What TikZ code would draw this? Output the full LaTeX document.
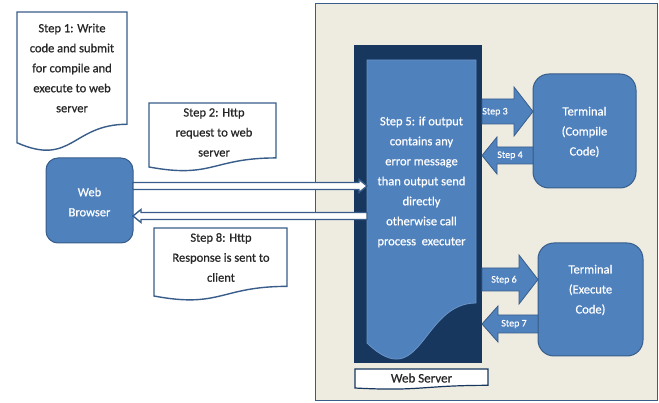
\documentclass[tikz,border=0pt]{standalone}
\usepackage{fontspec}
\setmainfont{Carlito}
\newfontfamily\semib{Carlito}[FakeBold=0.6]
\usetikzlibrary{calc}
\definecolor{obl}{HTML}{4F81BD}
\definecolor{obd}{HTML}{385D8A}
\definecolor{navy}{HTML}{17375E}
\definecolor{tanbg}{HTML}{EEECE1}
% document (wavy bottom) outline of a frame node
\newcommand\docpath[2]{%
  \path[#1] let \p1=(#2.north west), \p2=(#2.south east), \n1={\y1-\y2} in
    (\p1) -- (\x2,\y1) -- (\x2,{\y1-0.802*\n1})
    .. controls ({(\x1+\x2)/2},{\y1-0.802*\n1}) and ({(\x1+\x2)/2},{\y1-1.107*\n1}) ..
    (\x1,{\y1-0.934*\n1}) -- cycle;}
% horizontal block arrow: style, tail, tip, body half, head half, signed head length
\newcommand\hblock[6]{%
  \path[#1] let \p1=#2, \p2=#3 in
    (\x1,{\y2+#4pt}) -- ({\x2-(#6pt)},{\y2+#4pt}) -- ({\x2-(#6pt)},{\y2+#5pt}) -- (\p2)
    -- ({\x2-(#6pt)},{\y2-#5pt}) -- ({\x2-(#6pt)},{\y2-#4pt}) -- (\x1,{\y2-#4pt}) -- cycle;}
\tikzset{
  frame/.style={inner sep=0pt, outer sep=0pt, draw=none},
  bluebox/.style={frame, fill=obl, draw=obd, line width=1pt, rounded corners=16pt},
  docshape/.style={fill=white, draw=obd, line width=1.4pt},
  blockarrow/.style={fill=obl, draw=obd, line width=0.8pt},
  dblarrow/.style={fill=white, draw=obd, line width=1.4pt},
  txt/.style={font=\semib\fontsize{12.5}{20}\selectfont, align=center, inner sep=0pt, text=black!85},
  wtxt/.style={txt, text=white},
  steplbl/.style={font=\semib\fontsize{10}{12}\selectfont, text=white, inner sep=0pt},
}
\begin{document}
\begin{tikzpicture}[x=1pt,y=-1pt]
\useasboundingbox (0,0) rectangle (659,403);
% server area background
\draw[fill=tanbg, draw=obd, line width=1pt] (315,4) rectangle (657,401);
% web server
\node[frame, fill=navy, minimum width=128pt, minimum height=318pt] (srv) at (418,204) {};
\node[frame, minimum width=109pt, minimum height=303pt] (sdoc) at (421.5,211.5) {};
\docpath{fill=obl, draw=obl!85!white, line width=0.8pt}{sdoc}
\node[wtxt] (s5) at (421.5,182) {Step 5: if output\\contains any\\error message\\than output send\\directly\\otherwise call\\process\ \ executer};
\node[frame, minimum width=133pt, minimum height=20.3pt] (ws) at (421.5,379.2) {};
\docpath{docshape, draw=navy, line width=1.2pt}{ws}
\node[txt, font=\semib\fontsize{13}{20}\selectfont] (wst) at (421.5,378) {Web Server};
% terminals
\node[bluebox, minimum width=103pt, minimum height=114pt] (t1) at (584.5,131) {};
\node[wtxt] (t1t) at (584.5,132) {Terminal\\(Compile\\Code)};
\node[bluebox, minimum width=105pt, minimum height=113pt] (t2) at (590.5,299.5) {};
\node[wtxt] (t2t) at (590.5,290) {Terminal\\(Execute\\Code)};
% block arrows
\hblock{blockarrow}{(srv.east |- 0,111.5)}{(t1.west |- 0,111.5)}{12.5}{24.5}{19}
\node[steplbl] (a3) at (495,112) {Step 3};
\hblock{blockarrow}{(t1.west |- 0,155.5)}{(srv.east |- 0,155.5)}{8.5}{18.5}{-15}
\node[steplbl] (a4) at (510,155.5) {Step 4};
\hblock{blockarrow}{(srv.east |- 0,279.5)}{(t2.west |- 0,279.5)}{11.5}{24.5}{19}
\node[steplbl] (a6) at (504,280) {Step 6};
\hblock{blockarrow}{(t2.west |- 0,324)}{(srv.east |- 0,324)}{9}{18}{-16}
\node[steplbl] (a7) at (514,324) {Step 7};
% web browser
\node[bluebox, rounded corners=12pt, minimum width=87pt, minimum height=85pt] (br) at (89.5,200.5) {};
\node[wtxt] (brt) at (89.5,202) {Web\\Browser};
% documents
\node[frame, minimum width=110pt, minimum height=140pt] (d1) at (72,82) {};
\docpath{docshape}{d1}
\node[txt] (d1t) at (72,68) {Step 1: Write\\code and submit\\for compile and\\execute to web\\server};
\node[frame, minimum width=127pt, minimum height=68.5pt] (d2) at (212.5,137.25) {};
\docpath{docshape}{d2}
\node[txt] (d2t) at (214,132.5) {Step 2: Http\\request to web\\server};
\node[frame, minimum width=133pt, minimum height=72.8pt] (d3) at (220.5,264.4) {};
\docpath{docshape}{d3}
\node[txt] (d3t) at (221,257.5) {Step 8: Http\\Response is sent to\\client};
% request / response arrows
\hblock{dblarrow}{(br.east |- 0,186)}{(sdoc.west |- 0,186)}{3.5}{6.5}{8}
\hblock{dblarrow}{(sdoc.west |- 0,216)}{(br.east |- 0,216)}{3.5}{6.5}{-8}
\end{tikzpicture}
\end{document}
